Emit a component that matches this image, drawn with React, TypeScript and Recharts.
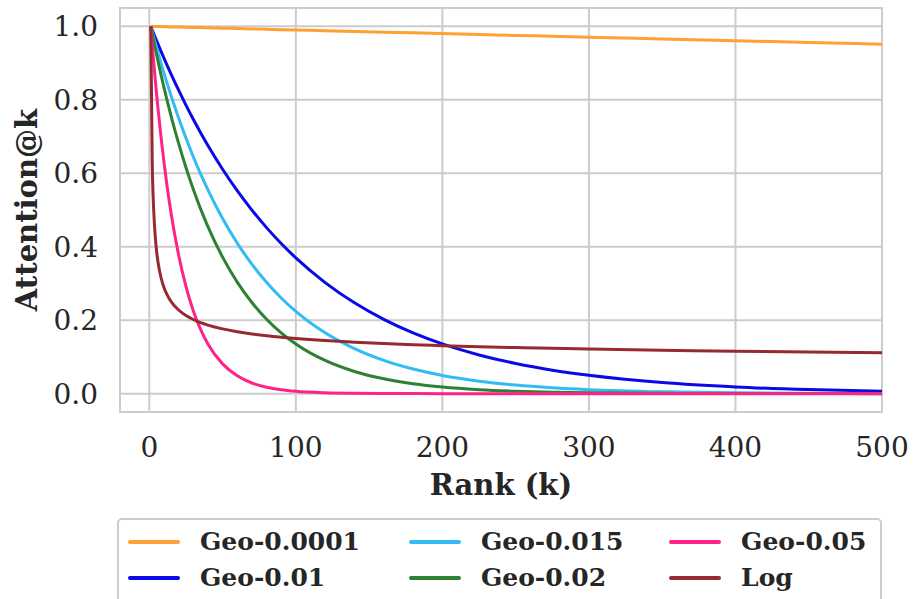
import React from 'react';
import { LineChart, Line, XAxis, YAxis, CartesianGrid, ReferenceArea, Legend, Label } from 'recharts';

const ranks = [1, 2, 3, 4, 5, 6, 8, 10, 12, 15, 20, 25, 30, 35, 40, 50, 60, 70, 80, 90, 100, 120, 140, 160, 180, 200, 225, 250, 275, 300, 350, 400, 450, 500];

const geo00001 = [1, 0.9999, 0.9998, 0.9997, 0.9996, 0.9995, 0.9993, 0.9991, 0.9989, 0.9986, 0.9981, 0.9976, 0.9971, 0.9966, 0.9961, 0.9951, 0.9941, 0.9931, 0.9921, 0.9911, 0.9901, 0.9882, 0.9862, 0.9842, 0.9823, 0.9803, 0.9779, 0.9754, 0.9730, 0.9705, 0.9657, 0.9609, 0.9561, 0.9513];
const geo001 = [1, 0.99, 0.9801, 0.9703, 0.9606, 0.951, 0.9321, 0.9135, 0.8953, 0.8687, 0.8262, 0.7857, 0.7472, 0.7106, 0.6757, 0.6111, 0.5527, 0.4998, 0.452, 0.4088, 0.3697, 0.3024, 0.2473, 0.2023, 0.1654, 0.1353, 0.1054, 0.0821, 0.0639, 0.0498, 0.0301, 0.0182, 0.011, 0.0066];
const geo0015 = [1, 0.985, 0.9702, 0.9557, 0.9413, 0.9272, 0.8996, 0.8728, 0.8468, 0.8093, 0.7504, 0.6958, 0.6451, 0.5982, 0.5547, 0.4768, 0.4099, 0.3524, 0.303, 0.2605, 0.2239, 0.1655, 0.1224, 0.0904, 0.0669, 0.0494, 0.0339, 0.0232, 0.0159, 0.0109, 0.0051, 0.0024, 0.0011, 0.0005];
const geo002 = [1, 0.98, 0.9604, 0.9412, 0.9224, 0.9039, 0.8681, 0.8337, 0.8007, 0.7536, 0.6812, 0.6158, 0.5566, 0.5031, 0.4548, 0.3716, 0.3036, 0.2481, 0.2027, 0.1656, 0.1353, 0.0903, 0.0603, 0.0403, 0.0269, 0.0179, 0.0108, 0.0065, 0.0039, 0.0024, 0.0009, 0.0003, 0.0001, 0];
const geo005 = [1, 0.95, 0.9025, 0.8574, 0.8145, 0.7738, 0.6983, 0.6302, 0.5688, 0.4877, 0.3774, 0.292, 0.2259, 0.1748, 0.1353, 0.081, 0.0485, 0.029, 0.0174, 0.0104, 0.0062, 0.0022, 0.0008, 0.0003, 0.0001, 0, 0, 0, 0, 0, 0, 0, 0, 0];
const logDecay = [1, 0.6309, 0.5, 0.4307, 0.3869, 0.3562, 0.3155, 0.2891, 0.2702, 0.25, 0.2277, 0.2127, 0.2018, 0.1934, 0.1867, 0.1763, 0.1686, 0.1626, 0.1577, 0.1537, 0.1502, 0.1445, 0.1401, 0.1364, 0.1333, 0.1307, 0.1279, 0.1254, 0.1233, 0.1215, 0.1183, 0.1156, 0.1134, 0.1115];

const xTicks = [0, 100, 200, 300, 400, 500];
const yTicks = [0, 0.2, 0.4, 0.6, 0.8, 1.0];

const seriesNames = ['Geo-0.0001', 'Geo-0.01', 'Geo-0.015', 'Geo-0.02', 'Geo-0.05', 'Log'];
const seriesValues = [geo00001, geo001, geo0015, geo002, geo005, logDecay];
const seriesColors = ['#FFA033', '#0A0AE8', '#33BBF5', '#2E8033', '#FF2288', '#962A2E'];

const data = ranks.map((k, i) => {
  const row: Record<string, number> = { k };
  seriesNames.forEach((name, s) => {
    row[name] = seriesValues[s][i];
  });
  return row;
});

const FONT = '"DejaVu Serif", serif';
const TEXT = '#262626';
const GRID = '#cccccc';

const colWidths = [285, 264, 214];

const LegendBox = (props: any) => {
  const payload = (props.payload || []) as any[];
  const cols: any[][] = [[], [], []];
  payload.forEach((p, i) => {
    cols[Math.floor(i / 2)].push(p);
  });
  return (
    <div
      style={{
        boxSizing: 'border-box',
        width: 765,
        height: 90,
        border: `2px solid ${GRID}`,
        borderRadius: 5,
        background: '#fff',
        display: 'flex',
        paddingLeft: 9,
        paddingTop: 4,
        fontFamily: FONT,
        fontWeight: 'bold',
        fontSize: 25,
        color: TEXT,
      }}
    >
      {cols.map((col, ci) => (
        <div key={ci} style={{ width: colWidths[ci], display: 'flex', flexDirection: 'column' }}>
          {col.map((p) => (
            <div key={p.value} style={{ display: 'flex', alignItems: 'center', height: 36 }}>
              <div style={{ width: 52, height: 4, background: p.color, borderRadius: 2, marginRight: 20 }} />
              <span style={{ lineHeight: '36px' }}>{p.value}</span>
            </div>
          ))}
        </div>
      ))}
    </div>
  );
};

const YLabel = (props: any) => {
  const vb = props.viewBox || { x: 0, y: 0, width: 0, height: 0 };
  const cx = vb.x + 27;
  const cy = vb.y + vb.height / 2;
  return (
    <text
      x={cx}
      y={cy}
      transform={`rotate(-90, ${cx}, ${cy})`}
      textAnchor="middle"
      dominantBaseline="central"
      fontFamily={FONT}
      fontWeight="bold"
      fontSize={29}
      fill={TEXT}
    >
      Attention@k
    </text>
  );
};

export default function App() {
  return (
    <div style={{ position: 'absolute', left: 0, top: 0, width: 915, height: 599, overflow: 'hidden', background: '#fff' }}>
      <LineChart width={915} height={599} data={data} margin={{ top: 8, right: 33, left: 0, bottom: 97 }}>
        <CartesianGrid stroke={GRID} strokeWidth={2} />
        <ReferenceArea x1={-20} x2={500} y1={-0.05} y2={1.05} fill="none" stroke={GRID} strokeWidth={2} fillOpacity={0} ifOverflow="visible" />
        <XAxis
          dataKey="k"
          type="number"
          domain={[-20, 500]}
          ticks={xTicks}
          allowDataOverflow
          axisLine={false}
          tickLine={false}
          tickSize={0}
          tickMargin={25}
          height={90}
          tick={{ fontFamily: FONT, fontSize: 28, fill: TEXT }}
        >
          <Label value="Rank (k)" position="insideBottom" offset={7} style={{ fontFamily: FONT, fontWeight: 'bold', fontSize: 29, fill: TEXT }} />
        </XAxis>
        <YAxis
          type="number"
          domain={[-0.05, 1.05]}
          ticks={yTicks}
          allowDataOverflow
          width={120}
          axisLine={false}
          tickLine={false}
          tickSize={0}
          tickMargin={22}
          tickFormatter={(v: number) => v.toFixed(1)}
          tick={{ fontFamily: FONT, fontSize: 28, fill: TEXT }}
        >
          <Label content={<YLabel />} />
        </YAxis>
        {seriesNames.map((name, s) => (
          <Line
            key={name}
            type="monotone"
            dataKey={name}
            name={name}
            stroke={seriesColors[s]}
            strokeWidth={3}
            dot={false}
            isAnimationActive={false}
          />
        ))}
        <Legend
          layout="horizontal"
          verticalAlign="middle"
          align="center"
          content={<LegendBox />}
          wrapperStyle={{ left: 117, top: 518, width: 765, height: 90 }}
        />
      </LineChart>
    </div>
  );
}
